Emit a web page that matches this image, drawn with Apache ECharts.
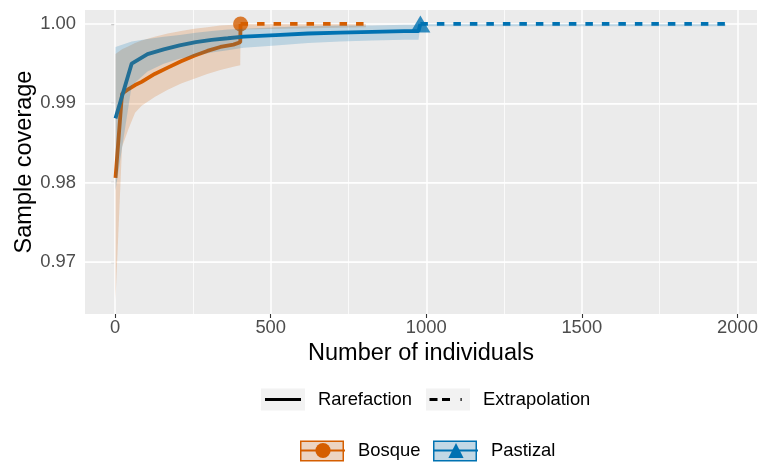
<!DOCTYPE html>
<html>
<head>
<meta charset="utf-8">
<script src="https://cdn.jsdelivr.net/npm/echarts@6/dist/echarts.min.js"></script>
<style>
  html, body { margin: 0; padding: 0; background: #ffffff; }
  #chart { width: 758px; height: 464px; }
</style>
</head>
<body>
<div id="chart"></div>
<script>
// Sample coverage against number of individuals, two habitats
const bosqueRareN = [1, 22, 43, 64, 85, 127, 169, 212, 254, 296, 338, 380, 402, 403];
const bosqueRareC = [0.9806, 0.9912, 0.9918, 0.9923, 0.9927, 0.9937, 0.9945, 0.9953, 0.9960, 0.9966, 0.9971, 0.9974, 0.9977, 1.0000];
const bosqueExtN = [403, 806];
const bosqueExtC = [1.0, 1.0];
const bosqueObsN = [403];
const bosqueObsC = [1.0];
const bosqueBandN = [1, 22, 43, 64, 85, 127, 169, 212, 254, 296, 338, 380, 402, 403, 806];
const bosqueLo = [0.9652, 0.9845, 0.9868, 0.9888, 0.9897, 0.9908, 0.9917, 0.9925, 0.9931, 0.9937, 0.9942, 0.9946, 0.9948, 0.9993, 0.9996];
const bosqueHi = [0.9962, 0.9968, 0.9972, 0.9976, 0.9979, 0.9984, 0.9988, 0.9991, 0.9994, 0.9996, 0.9998, 0.9999, 1.0, 1.0, 1.0];

const pastizalRareN = [1, 53, 104, 156, 207, 259, 310, 362, 413, 516, 620, 723, 826, 929, 975, 981];
const pastizalRareC = [0.9881, 0.9950, 0.9962, 0.9968, 0.9973, 0.9977, 0.9980, 0.9982, 0.9984, 0.9986, 0.9988, 0.9989, 0.9990, 0.9991, 0.9991, 1.0000];
const pastizalExtN = [981, 1962];
const pastizalExtC = [1.0, 1.0];
const pastizalObsN = [981];
const pastizalObsC = [1.0];
const pastizalBandN = [1, 53, 104, 156, 207, 259, 310, 362, 413, 516, 620, 723, 826, 929, 975, 981, 1962];
const pastizalLo = [0.9790, 0.9922, 0.9940, 0.9950, 0.9956, 0.9960, 0.9964, 0.9967, 0.9970, 0.9973, 0.9976, 0.9978, 0.9979, 0.9980, 0.9980, 0.9997, 0.9997];
const pastizalHi = [0.9971, 0.9978, 0.9981, 0.9984, 0.9986, 0.9989, 0.9991, 0.9993, 0.9994, 0.9996, 0.9997, 0.9998, 0.9998, 0.9999, 0.9999, 1.0, 1.0];

// Axis ticks and grid lines
const xTicks = [0, 500, 1000, 1500, 2000];
const xMinor = [250, 750, 1250, 1750];
const yTicks = [0.97, 0.98, 0.99, 1.00];
const yMinor = [0.965, 0.975, 0.985, 0.995];

const ORANGE = '#D55E00';
const BLUE = '#0072B2';
const FONT = '"Liberation Sans", Arial, Helvetica, sans-serif';
const SMALL = 18.4;
const TITLE = 23.5;

const zip = (a, b) => a.map((v, i) => [v, b[i]]);

function lineSeries(name, n, c, color, dashed, symbol, z) {
  return {
    type: 'line', name: name, data: zip(n, c),
    showSymbol: false, symbol: symbol || 'none', z: z,
    color: color,
    lineStyle: { color: color, width: 3.8, type: dashed ? [7.5, 9] : 'solid', cap: 'butt' },
    itemStyle: { color: color },
    silent: true, animation: false
  };
}

function bandSeries(name, n, lo, hi, color) {
  return {
    type: 'custom', name: name, z: 5, silent: true, animation: false,
    data: n.map((v, i) => [v, lo[i], hi[i]]),
    encode: { x: 0, y: [1, 2] },
    renderItem: function (params, api) {
      if (params.dataIndex !== 0) return null;
      const upper = n.map((v, i) => api.coord([v, hi[i]]));
      const lower = n.map((v, i) => api.coord([v, lo[i]])).reverse();
      return {
        type: 'polygon',
        shape: { points: upper.concat(lower) },
        style: { fill: color, opacity: 0.2 }
      };
    }
  };
}

function gridLines(values, axisKey, width) {
  return values.map(v => ({ [axisKey]: v, lineStyle: { width: width } }));
}

const chart = echarts.init(document.getElementById('chart'), null, { renderer: 'canvas' });

const legendCommon = {
  orient: 'horizontal', padding: 0, itemGap: 0, selectedMode: false,
  textStyle: { fontSize: SMALL, color: '#000000', fontFamily: FONT, padding: [0, 0, 0, 8] },
  itemStyle: { borderWidth: 0 }
};

const solidIcon = 'path://M0,0M44,22M4,9.6H40V12.4H4Z';
const dashIcon = 'path://M0,0M44,22M3.5,9.6H11.5V12.4H3.5ZM16,9.6H24V12.4H16ZM34.5,9.6H35.7V12.4H34.5Z';

chart.setOption({
  animation: false,
  backgroundColor: '#ffffff',
  textStyle: { fontFamily: FONT },
  grid: {
    left: 85, right: 1, top: 10, bottom: 150,
    show: true, backgroundColor: '#EBEBEB', borderWidth: 0,
    outerBoundsMode: 'none', containLabel: false
  },
  xAxis: {
    type: 'value', min: -97, max: 2063,
    name: 'Number of individuals', nameLocation: 'middle', nameGap: 28, nameMoveOverlap: false,
    nameTextStyle: { fontSize: TITLE, color: '#000000', fontFamily: FONT },
    axisLine: { show: false },
    axisTick: { show: true, length: 4, customValues: xTicks, lineStyle: { color: '#333333', width: 1.1 } },
    axisLabel: { customValues: xTicks, fontSize: SMALL, color: '#4D4D4D', margin: 5, fontFamily: FONT,
      formatter: v => String(v) },
    splitLine: { show: false }
  },
  yAxis: {
    type: 'value', min: 0.96344, max: 1.00176,
    name: 'Sample coverage', nameLocation: 'middle', nameGap: 48, nameMoveOverlap: false,
    nameTextStyle: { fontSize: TITLE, color: '#000000', fontFamily: FONT },
    axisLine: { show: false },
    axisTick: { show: true, length: 4, customValues: yTicks, lineStyle: { color: '#333333', width: 1.1 } },
    axisLabel: { customValues: yTicks, fontSize: SMALL, color: '#4D4D4D', margin: 9, fontFamily: FONT,
      formatter: v => v.toFixed(2) },
    splitLine: { show: false }
  },
  legend: [
    Object.assign({}, legendCommon, { data: [{ name: 'Rarefaction', icon: solidIcon }], left: 261, top: 388.5, itemWidth: 44, itemHeight: 22 }),
    Object.assign({}, legendCommon, { data: [{ name: 'Extrapolation', icon: dashIcon }], left: 426, top: 388.5, itemWidth: 44, itemHeight: 22 }),
    Object.assign({}, legendCommon, { data: ['Bosque'], left: 300, top: 441.5, itemWidth: 44, itemHeight: 19 }),
    Object.assign({}, legendCommon, { data: ['Pastizal'], left: 433, top: 441.5, itemWidth: 44, itemHeight: 19 })
  ],
  graphic: {
    elements: [
      { type: 'rect', silent: true, shape: { x: 261, y: 388.5, width: 44, height: 22 }, style: { fill: '#F2F2F2' } },
      { type: 'rect', silent: true, shape: { x: 426, y: 388.5, width: 44, height: 22 }, style: { fill: '#F2F2F2' } },
      { type: 'rect', silent: true, shape: { x: 300.75, y: 441.25, width: 42.5, height: 19.5 }, style: { fill: 'rgb(236,212,194)', stroke: ORANGE, lineWidth: 1.5 } },
      { type: 'rect', silent: true, shape: { x: 433.75, y: 441.25, width: 42.5, height: 19.5 }, style: { fill: 'rgb(194,216,229)', stroke: BLUE, lineWidth: 1.5 } }
    ]
  },
  series: [
    lineSeries('Bosque', bosqueRareN, bosqueRareC, ORANGE, false, 'circle', 3),
    lineSeries('Pastizal', pastizalRareN, pastizalRareC, BLUE, false, 'triangle', 3),
    lineSeries('Bosque', bosqueExtN, bosqueExtC, ORANGE, true, 'none', 3),
    lineSeries('Pastizal', pastizalExtN, pastizalExtC, BLUE, true, 'none', 3),
    {
      type: 'scatter', name: 'Bosque', data: zip(bosqueObsN, bosqueObsC),
      symbol: 'circle', symbolSize: 15, z: 2, silent: true,
      itemStyle: { color: ORANGE }
    },
    {
      type: 'scatter', name: 'Pastizal', data: zip(pastizalObsN, pastizalObsC),
      symbol: 'triangle', symbolSize: [20, 17], z: 2, silent: true,
      itemStyle: { color: BLUE }
    },
    bandSeries('Bosque', bosqueBandN, bosqueLo, bosqueHi, ORANGE),
    bandSeries('Pastizal', pastizalBandN, pastizalLo, pastizalHi, BLUE),
    {
      type: 'line', name: 'grid', data: [], z: 1, silent: true,
      markLine: {
        z: 1, silent: true, symbol: ['none', 'none'], animation: false,
        label: { show: false }, emphasis: { disabled: true },
        lineStyle: { color: '#FFFFFF', type: 'solid' },
        data: [].concat(
          gridLines(yMinor, 'yAxis', 0.75),
          gridLines(xMinor, 'xAxis', 0.75),
          gridLines(yTicks, 'yAxis', 1.5),
          gridLines(xTicks, 'xAxis', 1.5)
        )
      }
    },
    { type: 'line', name: 'Rarefaction', data: [], color: '#000000', lineStyle: { color: '#000000' }, itemStyle: { color: '#000000' } },
    { type: 'line', name: 'Extrapolation', data: [], color: '#000000', lineStyle: { color: '#000000' }, itemStyle: { color: '#000000' } }
  ]
});
</script>
</body>
</html>
